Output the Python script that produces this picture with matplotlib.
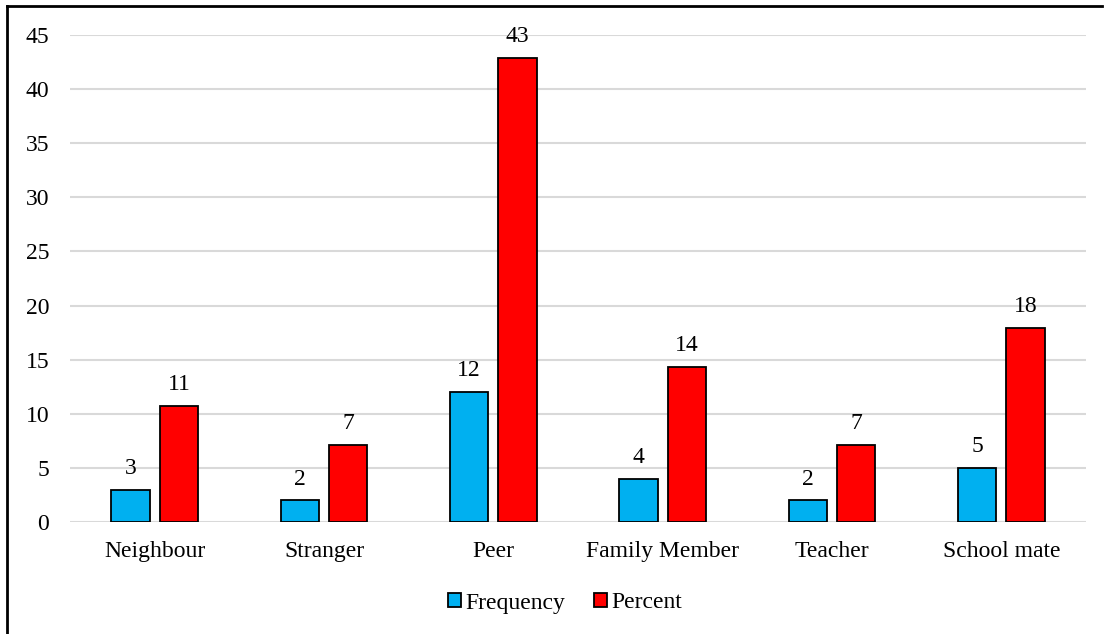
import matplotlib
matplotlib.use("Agg")
import matplotlib.pyplot as plt
import numpy as np
from matplotlib.lines import Line2D

categories = ["Neighbour", "Stranger", "Peer", "Family Member", "Teacher", "School mate"]
frequency = [3, 2, 12, 4, 2, 5]
percent = [10.7, 7.1, 42.9, 14.3, 7.1, 17.9]
yticks = [0, 5, 10, 15, 20, 25, 30, 35, 40, 45]

plt.rcParams['font.family'] = ['Liberation Serif', 'DejaVu Serif']
FS = 17

fig = plt.figure(figsize=(11.07, 6.34), dpi=100)
ax = fig.add_axes([70/1107, 1-522/634, 1016/1107, (522-35)/634])

x = np.arange(len(categories))
w = 0.225
off = 0.143
b1 = ax.bar(x - off, frequency, w, color="#00B0F0", edgecolor="black", linewidth=1.3, label="Frequency", zorder=3)
b2 = ax.bar(x + off, percent, w, color="#FF0000", edgecolor="black", linewidth=1.3, label="Percent", zorder=3)

for r, v in zip(b1, frequency):
    ax.text(r.get_x() + r.get_width()/2, v + 1.0, f"{v:.0f}", ha="center", va="bottom", fontsize=FS)
for r, v in zip(b2, percent):
    ax.text(r.get_x() + r.get_width()/2, v + 1.0, f"{v:.0f}", ha="center", va="bottom", fontsize=FS)

ax.set_xlim(-0.5, len(categories) - 0.5)
ax.set_ylim(0, 45)
ax.set_yticks(yticks)
ax.set_yticklabels([str(t) for t in yticks], fontsize=FS)
ax.set_xticks(x)
ax.set_xticklabels(categories, fontsize=FS)
ax.tick_params(axis="both", length=0)
ax.tick_params(axis="y", pad=15)
ax.tick_params(axis="x", pad=14)
ax.yaxis.grid(True, color="#D9D9D9", linewidth=1.5, zorder=0)
ax.set_axisbelow(True)
for s in ax.spines.values():
    s.set_visible(False)

leg = fig.legend(handles=[b1, b2], labels=["Frequency", "Percent"], loc="center",
                 bbox_to_anchor=(565/1107, 1-603/634), ncol=2, frameon=False,
                 fontsize=FS, handlelength=0.55, handleheight=0.55,
                 handletextpad=0.2, columnspacing=1.2)

fig.add_artist(Line2D([7/1107, 7/1107], [0, 1-6/634], transform=fig.transFigure,
                      color="black", linewidth=2))
fig.add_artist(Line2D([7/1107, 1102/1107], [1-6/634, 1-6/634], transform=fig.transFigure,
                      color="black", linewidth=2))

fig.savefig("out.png", dpi=100)
